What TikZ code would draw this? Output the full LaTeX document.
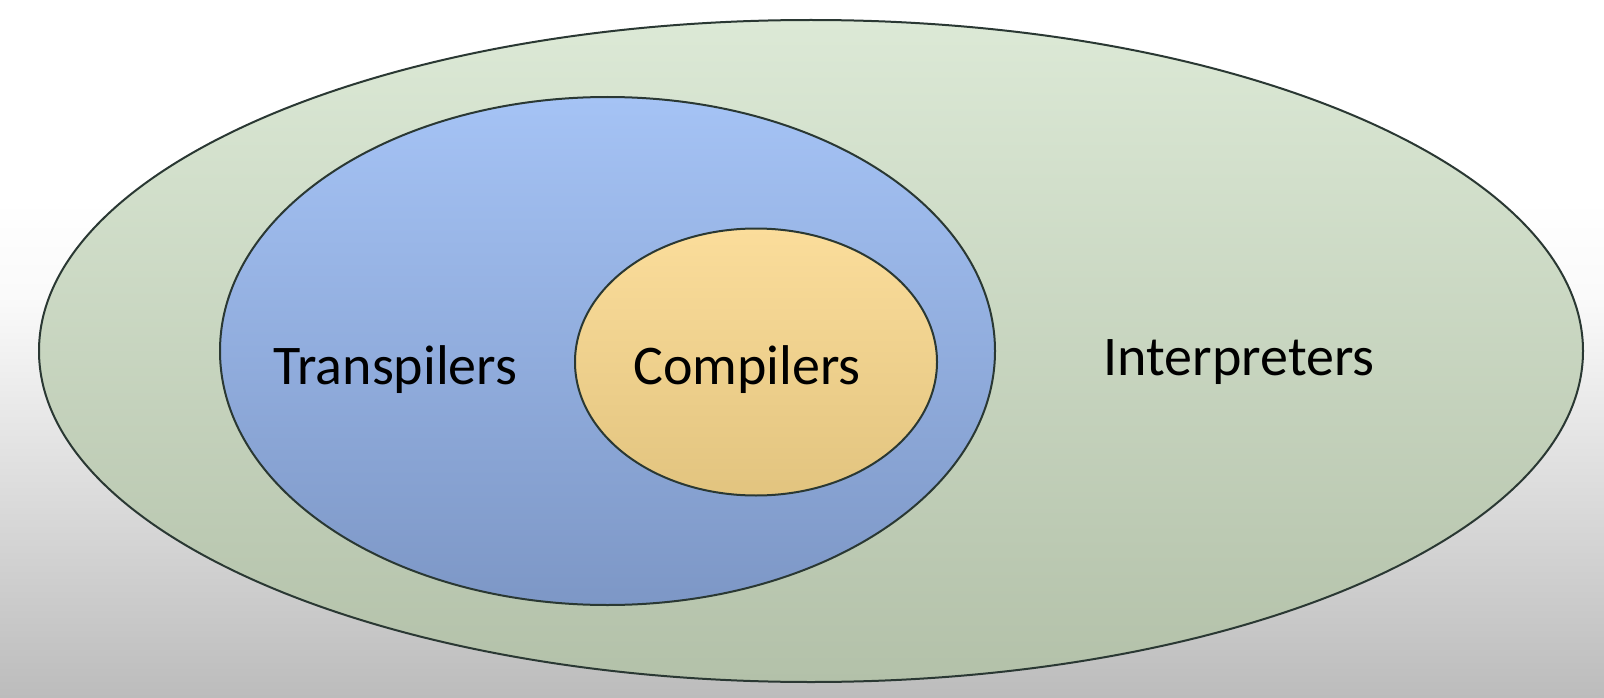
\documentclass[tikz,border=0pt]{standalone}
\usepackage{fontspec}
\setmainfont{Carlito}
\usetikzlibrary{shapes.geometric}
\definecolor{bgtop}{HTML}{FFFFFF}
\definecolor{bgbot}{HTML}{BCBCBC}
\definecolor{grtop}{HTML}{DCE9D6}
\definecolor{grbot}{HTML}{B3C1A9}
\definecolor{bltop}{HTML}{A5C3F5}
\definecolor{blbot}{HTML}{7D97C6}
\definecolor{yetop}{HTML}{FBDD9B}
\definecolor{yebot}{HTML}{E2C47F}
\definecolor{edge}{HTML}{2A3833}
\tikzset{
  setshape/.style={ellipse, draw=edge, line width=2pt, inner sep=0pt},
  lbl/.style={font=\fontsize{56}{62}\selectfont, text=black, inner sep=0pt}
}
\begin{document}
\begin{tikzpicture}[x=1pt,y=-1pt]
\useasboundingbox (0,0) rectangle (1604,698);
\fill[white] (0,0) rectangle (1604,200);
\shade[top color=white, bottom color=white!92!bgbot] (0,199) rectangle (1604,300);
\shade[top color=white!92!bgbot, bottom color=bgbot] (0,299) rectangle (1604,698);
\node[setshape, top color=grtop, bottom color=grbot, minimum width=1544pt, minimum height=662pt] (outer) at (811,351) {};
\node[setshape, top color=bltop, bottom color=blbot, minimum width=775pt, minimum height=508pt] (mid) at (607.5,351) {};
\node[setshape, top color=yetop, bottom color=yebot, minimum width=362pt, minimum height=267pt] (inner) at (756,362) {};
\node[lbl, anchor=base] (trans) at (395.5,384) {Transpilers};
\node[lbl, anchor=base] (comp) at (747,384) {Compilers};
\node[lbl, anchor=base] (interp) at (1239,375) {Interpreters};
\end{tikzpicture}
\end{document}
